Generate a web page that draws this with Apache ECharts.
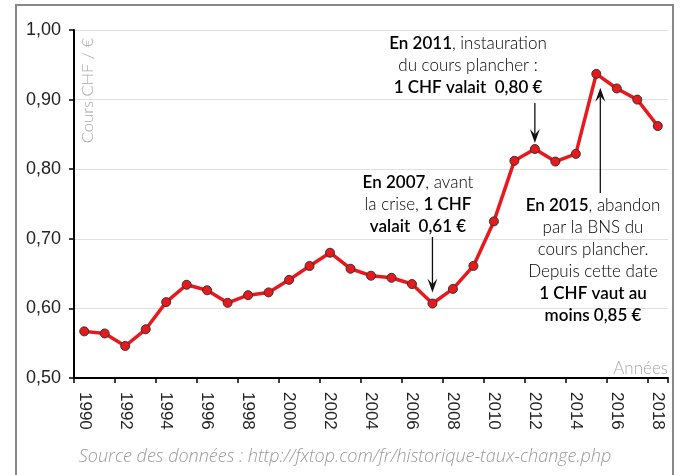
<!DOCTYPE html>
<html><head><meta charset="utf-8">
<script src="https://cdn.jsdelivr.net/npm/echarts@6/dist/echarts.min.js"></script>
<style>html,body{margin:0;padding:0;background:#fff}#c{width:680px;height:475px}</style>
</head><body><div id="c"></div>
<script>
const years = ['1990','1991','1992','1993','1994','1995','1996','1997','1998','1999','2000','2001','2002','2003','2004','2005','2006','2007','2008','2009','2010','2011','2012','2013','2014','2015','2016','2017','2018'];
const rates = [0.567,0.564,0.546,0.570,0.609,0.634,0.626,0.608,0.619,0.623,0.641,0.661,0.680,0.657,0.647,0.644,0.635,0.607,0.628,0.661,0.725,0.812,0.829,0.811,0.822,0.937,0.916,0.900,0.862];
const yTicks = {min:0.5, max:1.0, interval:0.1};

const chart = echarts.init(document.getElementById('c'), null, {renderer:'canvas'});
const LF = 'Lato, "Open Sans", sans-serif';
chart.setOption({
  animation:false,
  grid:{left:74, right:12, top:30, bottom:97, containLabel:false},
  xAxis:{type:'category', data:years, boundaryGap:true,
    axisLine:{lineStyle:{color:'#000', width:2}},
    axisTick:{show:true, interval:1, length:5, lineStyle:{color:'#000', width:1.5}},
    axisLabel:{interval:1, rotate:-90, margin:14, color:'#222', fontSize:17, fontFamily:'"Liberation Sans", Arial, sans-serif'},
    splitLine:{show:false}},
  yAxis:{type:'value', min:yTicks.min, max:yTicks.max, interval:yTicks.interval,
    axisLine:{show:true, lineStyle:{color:'#000', width:2}},
    axisTick:{show:true, length:5, lineStyle:{color:'#000', width:1.5}},
    axisLabel:{margin:13, color:'#222', fontSize:18, fontFamily:'"Liberation Sans", Arial, sans-serif',
      formatter:v=>v.toFixed(2).replace('.',',')},
    splitLine:{show:true, lineStyle:{color:'#e0e0e0', width:1}}},
  series:[{type:'line', data:rates, symbol:'circle', symbolSize:9,
    lineStyle:{color:'#e8191d', width:3.5},
    itemStyle:{color:'#e8191d', borderColor:'#333', borderWidth:1}}]
});

function px(i){ return chart.convertToPixel({xAxisIndex:0, yAxisIndex:0}, [i, rates[i]]); }
function arrow(x, y1, y2){
  const dir = y2 > y1 ? 1 : -1;
  const headLen = 14, hw = 5;
  return [
    {type:'line', shape:{x1:x, y1:y1, x2:x, y2:y2 - dir*headLen*0.6}, style:{stroke:'#111', lineWidth:1.3}},
    {type:'polygon', shape:{points:[[x, y2],[x-hw, y2-dir*headLen],[x, y2-dir*headLen*0.6],[x+hw, y2-dir*headLen]]}, style:{fill:'#111'}}
  ];
}
const p2012 = px(22), p2007 = px(17), p2015 = px(25);
const rich = {
  b:{fontFamily:LF, fontWeight:600, fontSize:17, color:'#222'},
  l:{fontFamily:LF, fontWeight:300, fontSize:17, color:'#444'}
};
function txt(x, y, s){
  return {type:'text', x:x, y:y, style:{text:s, rich:rich, align:'center', verticalAlign:'middle', lineHeight:22, fontFamily:LF, fontSize:17}};
}
const g = [
  {type:'rect', shape:{x:16, y:5, width:657, height:490}, style:{fill:'none', stroke:'#888', lineWidth:2}},
  {type:'text', x:88, y:38, rotation:Math.PI/2, style:{text:'Cours CHF / €', align:'right', verticalAlign:'middle', fill:'#a8a8a8', fontSize:16.5, fontWeight:300, fontFamily:LF}},
  {type:'text', x:668, y:369, style:{text:'Années', align:'right', verticalAlign:'middle', fill:'#a8a8a8', fontSize:17, fontWeight:300, fontFamily:LF}},
  {type:'text', x:345, y:457, style:{text:'Source des données : http://fxtop.com/fr/historique-taux-change.php', align:'center', verticalAlign:'middle', fill:'#9a9a9a', fontSize:18, fontStyle:'italic', fontWeight:300, fontFamily:'"Open Sans", sans-serif'}},
  txt(468, 66, '{b|En 2011}{l|, instauration}\n{l|du cours plancher :}\n{b|1 CHF valait  0,80 €}'),
  txt(418, 205, '{b|En 2007}{l|, avant}\n{l|la crise, }{b|1 CHF}\n{b|valait  0,61 €}'),
  txt(593, 261, '{b|En 2015}{l|, abandon}\n{l|par la BNS du}\n{l|cours plancher.}\n{l|Depuis cette date}\n{b|1 CHF vaut au}\n{b|moins 0,85 €}')
].concat(arrow(p2012[0], 103, p2012[1]-6))
 .concat(arrow(p2007[0], 237, p2007[1]-11))
 .concat(arrow(p2015[0]+4, 193, p2015[1]+14));
chart.setOption({graphic:g});
</script></body></html>
